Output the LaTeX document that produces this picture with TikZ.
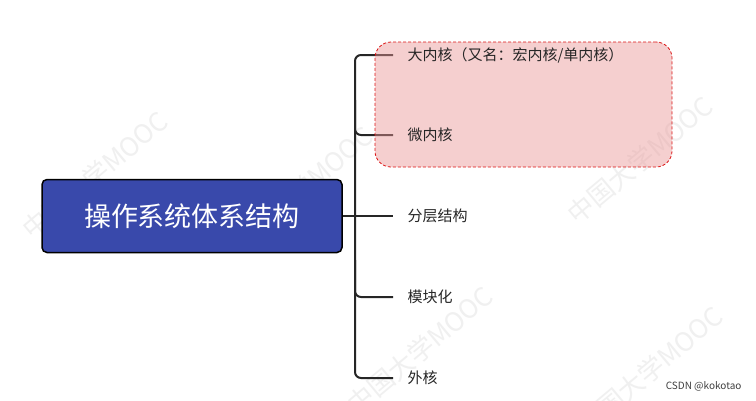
\documentclass[tikz,border=0pt]{standalone}
\usepackage{fontspec}
\setmainfont{Noto Sans CJK SC}
\begin{document}
\begin{tikzpicture}[x=1pt,y=-1pt,
  lbl/.style={anchor=west,font=\fontsize{15}{17}\selectfont,text=black!85},
  br/.style={line width=2pt,draw=black!85,rounded corners=6pt},
  wm/.style={text=black!6,font=\fontsize{26}{28}\selectfont,rotate=40}]
\useasboundingbox (0,0) rectangle (756,400);
\fill[white] (0,0) rectangle (756,400);
\node[wm] at (95,175) {中国大学MOOC};
\node[wm] at (300,190) {中国大学MOOC};
\node[wm] at (640,160) {中国大学MOOC};
\node[wm] at (420,350) {中国大学MOOC};
\node[wm] at (650,370) {中国大学MOOC};
\node[draw=black,line width=1.5pt,fill={rgb,255:red,57;green,73;blue,171},rounded corners=5pt,minimum width=300,minimum height=73,text=white,font=\fontsize{27}{30}\selectfont] (root) at (192,216) {操作系统体系结构};
\coordinate (j) at (355,216);
\draw[br] (root.east) -- (j);
\draw[br] (393,55) -- (355,55) -- (355,378) -- (393,378);
\draw[br] (355,100) |- (393,135);
\draw[br] (j) -- (393,216);
\draw[br] (355,260) |- (393,297);
\node[draw={rgb,255:red,220;green,20;blue,20},line width=0.8pt,dash pattern=on 3pt off 2pt,fill={rgb,255:red,234;green,150;blue,150},fill opacity=0.45,draw opacity=1,rounded corners=16pt,minimum width=297,minimum height=125] (grp) at (523.5,104.5) {};
\node[lbl] (a) at (404,55) {大内核（又名：宏内核/单内核）};
\node[lbl] (b) at (404,135) {微内核};
\node[lbl] (c) at (404,216) {分层结构};
\node[lbl] (d) at (404,297) {模块化};
\node[lbl] (e) at (404,378) {外核};
\node[anchor=east,font=\fontsize{10}{12}\selectfont,text=black!75] (cs) at (745,386) {CSDN @kokotao};
\end{tikzpicture}
\end{document}
